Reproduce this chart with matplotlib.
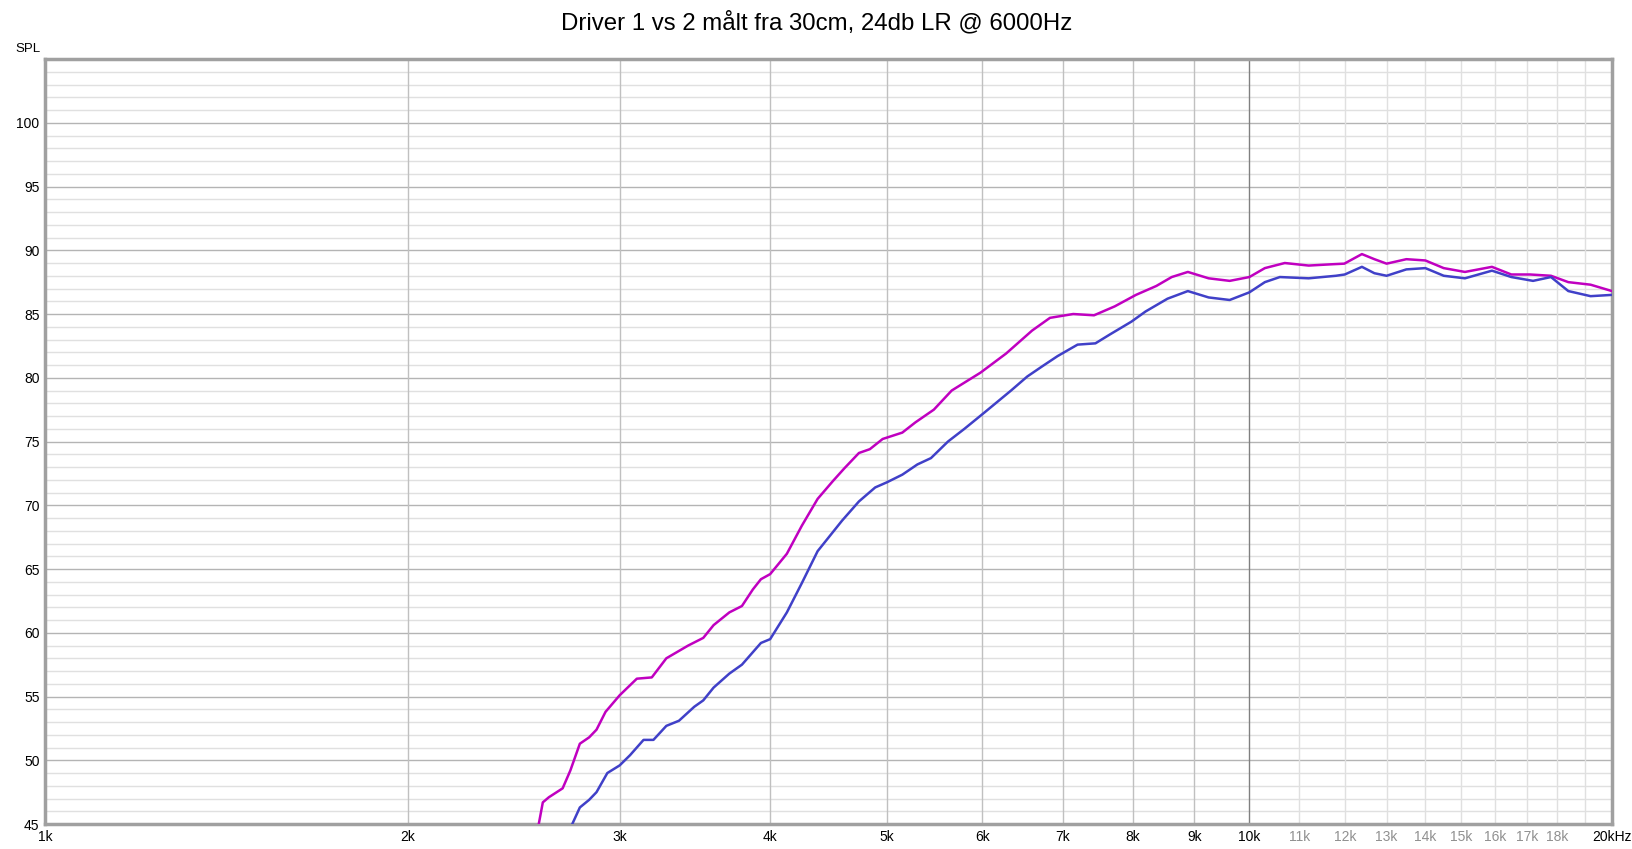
import matplotlib
matplotlib.use("Agg")
import matplotlib.pyplot as plt
from matplotlib.ticker import NullFormatter, NullLocator

plt.rcParams['font.family'] = ['Liberation Sans', 'DejaVu Sans']

# frequency (Hz) / SPL (dB)
f1 = [2570, 2590, 2620, 2690, 2730, 2780, 2830, 2870, 2920, 3000, 3100, 3190, 3280,
      3420, 3520, 3590, 3700, 3790, 3870, 3930, 4000, 4130, 4250, 4380, 4510, 4610,
      4740, 4840, 4960, 5150, 5280, 5470, 5660, 5980, 6280, 6600, 6830, 7140, 7430,
      7730, 8050, 8370, 8620, 8890, 9250, 9630, 10000, 10300, 10700, 11200, 11700,
      11990, 12400, 12700, 13000, 13500, 14000, 14500, 15100, 15900, 16500, 17100,
      17800, 18400, 19200, 20000]
spl1 = [45.0, 46.7, 47.1, 47.8, 49.2, 51.3, 51.8, 52.4, 53.8, 55.1, 56.4, 56.5, 58.0,
        59.0, 59.6, 60.6, 61.6, 62.1, 63.4, 64.2, 64.6, 66.2, 68.4, 70.5, 71.9, 72.9,
        74.1, 74.4, 75.2, 75.7, 76.5, 77.5, 79.0, 80.4, 81.9, 83.7, 84.7, 85.0, 84.9,
        85.6, 86.5, 87.2, 87.9, 88.3, 87.8, 87.6, 87.9, 88.6, 89.0, 88.8, 88.9,
        88.95, 89.7, 89.3, 88.95, 89.3, 89.2, 88.6, 88.3, 88.7, 88.1, 88.1,
        88.0, 87.5, 87.3, 86.8]

f2 = [2740, 2780, 2830, 2870, 2930, 3000, 3060, 3140, 3200, 3280, 3360, 3460, 3520,
      3590, 3700, 3790, 3930, 4000, 4130, 4250, 4380, 4590, 4740, 4890, 5000, 5150,
      5300, 5440, 5620, 5800, 6030, 6340, 6540, 6730, 6930, 7200, 7450, 7660, 7980,
      8200, 8550, 8890, 9250, 9630, 10000, 10300, 10600, 11200, 11800, 12000, 12400,
      12700, 13000, 13500, 14000, 14500, 15100, 15900, 16500, 17200, 17800, 18400,
      19200, 20000]
spl2 = [45.0, 46.3, 46.9, 47.5, 49.0, 49.6, 50.4, 51.6, 51.6, 52.7, 53.1, 54.2, 54.7,
        55.7, 56.8, 57.5, 59.2, 59.5, 61.6, 63.9, 66.4, 68.8, 70.3, 71.4, 71.8, 72.4,
        73.2, 73.7, 75.0, 76.0, 77.3, 79.0, 80.1, 80.9, 81.7, 82.6, 82.7, 83.4, 84.4,
        85.2, 86.2, 86.8, 86.3, 86.1, 86.7, 87.5, 87.9, 87.8, 88.0, 88.1, 88.7,
        88.2, 88.0, 88.5, 88.6, 88.0, 87.8, 88.4, 87.9, 87.6, 87.9, 86.8,
        86.4, 86.5]

xticks = [1000, 2000, 3000, 4000, 5000, 6000, 7000, 8000, 9000, 10000,
          11000, 12000, 13000, 14000, 15000, 16000, 17000, 18000, 20000]
xlabels = ['1k', '2k', '3k', '4k', '5k', '6k', '7k', '8k', '9k', '10k',
           '11k', '12k', '13k', '14k', '15k', '16k', '17k', '18k', '20kHz']
yticks = list(range(45, 101, 5))

fig = plt.figure(figsize=(16.33, 8.49), dpi=100)
ax = fig.add_axes([0.0276, 0.0294, 0.9595, 0.9011])

ax.set_xscale('log')
ax.set_xlim(1000, 20000)
ax.set_ylim(45, 105)

# grid
for y in range(46, 105):
    c = '#b4b4b4' if y % 5 == 0 else '#e0e0e0'
    ax.axhline(y, color=c, lw=1, zorder=1)
for fx in list(range(2000, 10000, 1000)):
    ax.axvline(fx, color='#c0c0c0', lw=1, zorder=1)
ax.axvline(10000, color='#808080', lw=1, zorder=1)
for fx in range(11000, 20000, 1000):
    ax.axvline(fx, color='#e0e0e0', lw=1, zorder=1)

ax.plot(f1, spl1, color='#c000c0', lw=1.8, zorder=3, solid_joinstyle='round')
ax.plot(f2, spl2, color='#4040c8', lw=1.8, zorder=3, solid_joinstyle='round')

ax.xaxis.set_minor_locator(NullLocator())
ax.xaxis.set_minor_formatter(NullFormatter())
ax.set_xticks(xticks)
ax.set_xticklabels(xlabels, fontsize=10)
for lbl, t in zip(ax.get_xticklabels(), xticks):
    if 10000 < t < 20000:
        lbl.set_color('#909090')
ax.set_yticks(yticks)
ax.set_yticklabels([str(v) for v in yticks], fontsize=10)
ax.tick_params(length=0, pad=4)

for s in ax.spines.values():
    s.set_color('#a0a0a0')
    s.set_linewidth(2.5)

fig.text(0.0096, 0.942, 'SPL', fontsize=9.5, va='center')
fig.text(0.5, 0.973, 'Driver 1 vs 2 målt fra 30cm, 24db LR @ 6000Hz',
         fontsize=17.3, ha='center', va='center')

fig.savefig('out.png', dpi=100)
